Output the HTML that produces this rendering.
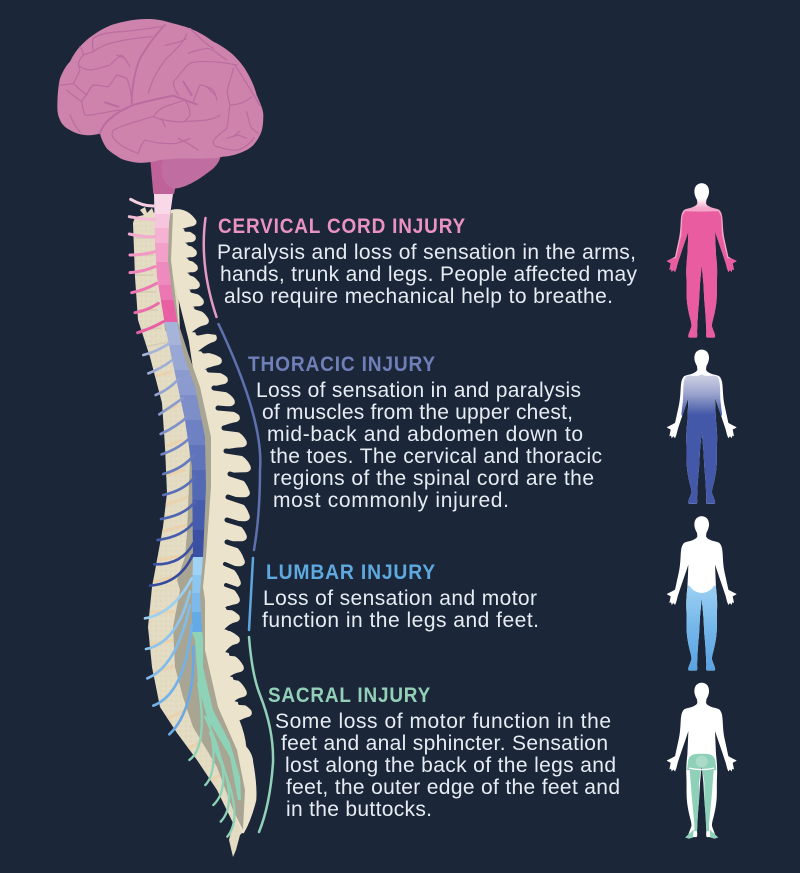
<!DOCTYPE html>
<html><head><meta charset="utf-8"><style>
html,body{margin:0;padding:0;background:#1b2639}
svg{display:block}
.h{font:bold 21px "Liberation Sans",sans-serif;letter-spacing:.9px}
.t{font:21px "Liberation Sans",sans-serif;fill:#e6ecf2}
</style></head><body>
<svg width="800" height="873" viewBox="0 0 800 873" xmlns="http://www.w3.org/2000/svg">
<defs>
<path id="half" d="M-1,0 L0,0 C14,0 22,10 22,25 C22,36 16,46 14,50 L13,60 C14,66 25,72 38,75 C46,77 53,78 56,84 C61,92 62,100 63,115 C64,135 65,150 68,165 L80,220 C90,226 98,230 105,233 C100,237 96,238 93,240 L97,260 L92,258 L90,266 L85,260 L80,266 L76,256 L72,240 C64,215 50,175 40,145 C41,170 42,195 43,215 C46,240 47,260 46,280 C45,300 46,325 45,345 C44,365 40,385 35,405 C32,415 30,425 31,430 C34,440 39,450 40,456 C41,461 39,463 36,463 L16,463 C13,463 13,455 14,445 L13,425 C12,400 10,375 8,355 L5,300 L0,247 L-1,247 Z"/>
<clipPath id="bodyClip"><use href="#half"/><use href="#half" transform="scale(-1,1)"/></clipPath>
<g id="body"><use href="#half"/><use href="#half" transform="scale(-1,1)"/></g>
<linearGradient id="g1" gradientUnits="userSpaceOnUse" x1="0" y1="45" x2="0" y2="75"><stop offset="0" stop-color="#fff"/><stop offset="1" stop-color="#f3a6c9"/></linearGradient>
<linearGradient id="g2" gradientUnits="userSpaceOnUse" x1="0" y1="72" x2="0" y2="195"><stop offset="0" stop-color="#d2d4e5"/><stop offset=".5" stop-color="#9aa3cd"/><stop offset="1" stop-color="#4358a8"/></linearGradient>
<linearGradient id="g3" gradientUnits="userSpaceOnUse" x1="0" y1="210" x2="0" y2="463"><stop offset="0" stop-color="#9bd0f3"/><stop offset=".5" stop-color="#73b6ea"/><stop offset="1" stop-color="#5aa3e1"/></linearGradient>
<pattern id="st" width="5" height="5" patternUnits="userSpaceOnUse"><rect width="5" height="5" fill="#e3dbc2"/><circle cx="1" cy="1" r=".7" fill="#dcd3b9"/><circle cx="3.5" cy="3.5" r=".6" fill="#e9e2cd"/></pattern>
<clipPath id="cord"><path d="M154,194 L155,243 L157,277 L165,325 L170,350 L177,383 L185,420 L192,467 L193,557 L192,600 L192,632 L195,640 L198,683 L210,723 L230,757 L238,800 L241,800 L240,777 L230,743 L213,710 L203,667 L203,637 L202,632 L200,593 L203,557 L206,487 L205,437 L195,387 L183,353 L177,320 L172,293 L168,260 L169,223 L173,194 Z"/></clipPath>
<path id="vert" d="M135,217 L153,213 L175,213 L180,330 L200,440 L195,560 L205,640 L230,740 L245,830 L240,835 L236,850 L233,857 L229,840 L233,823 L217,790 L197,760 L177,733 L160,707 L152,667 L148,627 L152,587 L157,560 L163,527 L167,493 L165,447 L162,403 L150,357 L138,320 L135,277 L133,223 Z"/>
<clipPath id="vertClip"><use href="#vert"/></clipPath>
</defs>
<rect width="800" height="873" fill="#1b2639"/>

<!-- brain -->
<g transform="translate(50,15) scale(.33333)">
<path d="M300,425 L310,537 L372,537 L380,500 L510,420 Z" fill="#bf629a"/>
<path d="M340,430 C328,470 335,510 372,521 C410,518 450,492 490,460 C505,445 510,435 512,420 Z" fill="#c06ea1"/>
<path d="M22,280 C22,240 25,210 30,190 C40,165 50,150 60,140 C70,120 80,105 90,95 C105,78 118,68 130,60 C150,45 170,35 190,28 C225,18 260,12 290,12 C315,12 335,15 350,20 C380,28 400,33 420,40 C445,50 470,65 490,80 C515,92 535,107 550,120 C570,140 582,155 590,170 C605,195 615,220 620,240 C630,262 640,285 640,300 C640,325 638,345 630,360 C618,385 605,397 590,405 C565,418 540,424 520,425 C500,430 485,430 470,430 C445,432 420,430 400,430 C375,430 350,433 330,435 C305,442 280,445 260,443 C240,440 225,436 215,432 C195,420 180,410 170,400 C160,385 153,370 150,355 C135,360 120,362 105,360 C85,358 70,352 60,345 C45,338 35,328 30,315 C25,305 22,292 22,280 Z" fill="#cd83ab"/>
<g fill="none" stroke="#ba6ca0" stroke-width="3.5" stroke-linecap="round" stroke-linejoin="round">
<path d="M150,355 C160,320 200,290 250,270 C290,258 340,248 370,242 C395,250 420,262 440,268" stroke-width="6"/>
<path d="M345,30 C315,60 285,105 270,130 C255,165 245,220 245,265" stroke-width="5.5"/>
<path d="M410,55 C405,80 375,105 350,130 C325,160 305,195 295,235"/>
<path d="M408,72 C385,85 365,85 345,92"/>
<path d="M560,150 C530,145 510,140 480,140 C450,138 430,142 420,145 C400,160 390,180 370,200 C370,215 378,230 385,240"/>
<path d="M415,115 C435,105 455,105 470,100 C490,100 505,120 530,135"/>
<path d="M420,40 C445,65 470,90 490,100"/>
<path d="M555,150 C580,190 600,220 630,272"/>
<path d="M550,160 C545,190 530,215 532,235 C535,250 537,260 540,270 C560,270 590,262 605,245"/>
<path d="M540,270 C535,300 535,325 530,340 C515,355 495,365 490,378 C488,390 495,395 510,397 C530,405 555,408 570,403 C590,395 605,380 612,368"/>
<path d="M590,290 C595,310 600,335 605,340 C612,345 620,352 625,355"/>
<path d="M530,370 L565,360 L590,370 M550,365 L570,348"/>
<path d="M190,345 C210,335 240,325 265,318 C290,310 305,305 310,305 C325,312 335,315 345,315 C370,320 385,322 400,320 C425,318 450,318 470,315 C490,312 505,305 510,300"/>
<path d="M310,305 C320,290 330,280 345,275 C365,268 385,262 405,255 C415,270 420,285 420,300 C415,310 405,318 400,320"/>
<path d="M335,310 L345,335"/>
<path d="M190,345 C184,355 185,365 195,375 C205,385 218,395 230,400 C245,408 255,412 265,415 C270,400 275,385 285,375 C320,385 350,388 380,385 C395,380 410,375 420,370"/>
<path d="M385,370 C405,380 430,395 445,405"/>
<path d="M130,70 C150,55 190,50 220,50 C260,45 300,40 335,35"/>
<path d="M130,110 C150,95 175,85 200,80 C235,72 270,68 305,65"/>
<path d="M130,70 C125,80 128,95 130,110 C115,115 105,118 100,120 C90,130 85,140 85,150 C95,160 110,165 125,165 C145,160 165,155 180,150 C195,135 205,125 215,120 C225,130 232,142 240,155"/>
<path d="M30,210 C45,210 58,208 70,205 C80,190 85,175 90,165 L85,150"/>
<path d="M70,205 C85,220 98,232 110,240 C115,228 122,217 130,210 C145,210 160,215 175,215 C185,205 192,190 200,180 C210,182 220,186 230,190 C240,210 245,240 245,265"/>
<path d="M110,240 C100,248 97,255 95,260 C97,275 100,290 105,300 C120,302 135,298 150,295 C170,292 190,288 210,285"/>
<path d="M50,225 C65,240 82,250 95,260"/>
<path d="M60,300 C68,320 78,338 90,350"/>
<path d="M90,95 C100,110 100,118 100,120"/>
<path d="M430,260 C438,235 445,220 450,210 C465,212 480,218 490,225 C495,235 500,245 500,255"/>
<path d="M165,262 L205,275" stroke-width="6"/>
<path d="M400,200 L425,240" stroke-width="6"/>
<path d="M200,120 L225,130 M470,215 L495,240"/>
</g>
</g>

<!-- vertebral bodies -->
<use href="#vert" fill="url(#st)"/>
<path d="M140,210 L145,207 L147,213 L152,208 L155,216 L147,219 Z" fill="#e6dcc2"/>
<g stroke="#e9d2ad" stroke-width="3" fill="none" clip-path="url(#vertClip)">
<path d="M130,382 L172,372 M140,420 L178,405 M150,452 L183,440 M150,480 L185,470 M150,510 L188,497 M150,535 L187,525 M150,561 L188,555 M145,583 L186,575 M140,612 L175,612 M140,646 L175,640 M145,675 L178,665 M160,722 L190,708 M180,752 L205,740 M205,785 L220,775"/>
</g>
<g stroke="#d6cdb2" stroke-width="1.5" fill="none" clip-path="url(#vertClip)">
<path d="M130,238 L154,238 M130,255 L154,255 M130,275 L154,275 M130,292 L156,292 M130,310 L158,310 M130,330 L162,328 M130,350 L168,342"/>
</g>

<!-- posterior spinous processes -->
<path stroke="#ece3cd" stroke-width="2.6" stroke-linejoin="round" d="M172,211 Q186,208 195,221 Q196,224 192,225 Q186,226 178,229 Q188,231 194,236 Q196,240 191,241 Q185,241 181,243 Q189,245 195,251 Q197,255 192,256 Q186,256 182,258 Q190,260 196,266 Q198,270 193,271 Q187,271 183,273 Q192,275 198,283 Q200,287 195,288 Q189,288 183,290 Q196,292 202,300 Q204,304 199,305 Q193,305 187,307 Q201,309 207,319 Q209,323 204,324 Q198,325 189,333 Q209,335 215,336 Q217,340 212,341 Q206,343 195,352 Q214,354 220,359 Q222,363 217,364 Q211,365 200,370 Q220,372 226,378 Q228,382 223,383 Q217,384 205,388 Q227,390 233,400 Q235,404 230,405 Q224,405 208,408 Q232,410 238,416 Q240,420 235,421 Q229,422 216,427 Q239,429 245,441 Q247,445 242,446 Q236,446 216,450 Q243,452 249,466 Q251,470 246,471 Q240,471 222,472 Q242,474 248,491 Q250,495 245,496 Q239,496 218,495 Q242,497 248,515 Q250,519 245,520 Q239,520 217,518 Q239,520 245,535 Q247,539 242,540 Q236,540 217,540 Q237,542 243,560 Q245,564 240,565 Q234,565 215,562 Q233,564 239,581 Q241,585 236,586 Q230,586 217,583 Q232,585 238,598 Q240,602 235,603 Q229,604 221,608 Q232,610 238,616 Q240,620 235,621 Q229,622 222,630 Q232,632 238,638 Q240,642 235,643 Q229,644 223,653 Q236,655 242,666 Q244,670 239,671 Q233,672 227,677 Q239,679 245,691 Q247,695 242,696 Q236,697 232,702 Q244,704 250,711 Q252,715 247,716 Q243,717 238,720 Q244,735 245,747 Q252,755 252,763 Q256,785 255,800 Q250,820 243,832 L238,820 L210,700 L195,640 L195,560 L205,440 L190,340 L170,260 Z" fill="#ece3cd"/>
<!-- dark gaps between processes -->
<g fill="none" stroke="#1b2639" stroke-linecap="round">
<path stroke-width="3.5" d="M186,230 L197,230 M189,244 L198,246 M190,259 L199,261 M191,274 L200,277 M192,291 L204,294 M196,308 L209,312"/>
<path stroke-width="5" d="M198,333 L218,329 M204,351 L223,349 M209,370 L229,371 M214,388 L236,391 M218,408 L241,410 M224,428 L248,431 M226,451 L252,455 M230,474 L252,481 M228,497 L252,505 M227,520 L250,527 M227,542 L248,549"/>
<path stroke-width="4" d="M225,564 L244,572 M226,585 L243,591 M228,608 L243,609 M229,629 L243,629 M231,654 L247,655 M235,678 L250,681 M240,703 L255,704"/>
</g>

<!-- grey dura -->
<path d="M173,213 L171,260 L177,310 L178,322 L188,353 L200,387 L211,437 L211,487 L206,557 L203,587 L205,600 L205,650 L218,707 L237,750 L245,790 L243,830 L233,810 L217,767 L193,727 L183,697 L175,667 L173,627 L180,590 L177,580 L185,557 L187,533 L190,460 L188,427 L182,383 L177,347 L165,330 L160,280 L160,215 Z" fill="#a9a593"/>

<!-- cord -->
<g clip-path="url(#cord)">
<rect x="120" y="190" width="160" height="24" fill="#f9d9e8"/>
<rect x="120" y="214" width="160" height="14" fill="#f7c6de"/>
<rect x="120" y="228" width="160" height="15" fill="#f5b2d3"/>
<rect x="120" y="243" width="160" height="19" fill="#f2a0c9"/>
<rect x="120" y="262" width="160" height="23" fill="#ef8abe"/>
<rect x="120" y="285" width="160" height="15" fill="#ec78b3"/>
<rect x="120" y="300" width="160" height="24" fill="#e95fa4"/>
<rect x="120" y="322" width="160" height="23" fill="#a7b4d9"/>
<rect x="120" y="345" width="160" height="25" fill="#99a7d4"/>
<rect x="120" y="370" width="160" height="25" fill="#8b9bcf"/>
<rect x="120" y="395" width="160" height="25" fill="#7d8ec9"/>
<rect x="120" y="420" width="160" height="25" fill="#6e81c3"/>
<rect x="120" y="445" width="160" height="25" fill="#6074bb"/>
<rect x="120" y="470" width="160" height="30" fill="#5369b4"/>
<rect x="120" y="500" width="160" height="30" fill="#465dad"/>
<rect x="120" y="530" width="160" height="27" fill="#3b50a3"/>
<rect x="120" y="557" width="160" height="18" fill="#a0d2f3"/>
<rect x="120" y="575" width="160" height="18" fill="#8dc6f0"/>
<rect x="120" y="593" width="160" height="19" fill="#7cbaec"/>
<rect x="120" y="612" width="160" height="20" fill="#64aae6"/>
<rect x="120" y="632" width="160" height="240" fill="#8ed2b8"/>
</g>

<!-- cervical nerves -->
<g transform="translate(40,10) scale(.33333)" fill="none" stroke-width="9" stroke-linecap="round">
<path d="M272,568 Q310,590 345,588" stroke="#f6cfe1"/>
<path d="M268,620 Q310,628 345,628" stroke="#f5bcd8"/>
<path d="M268,672 Q310,682 345,680" stroke="#f3aacf"/>
<path d="M270,735 Q310,735 345,725" stroke="#f198c5"/>
<path d="M270,788 Q310,785 345,770" stroke="#ee86bb"/>
<path d="M275,848 Q315,840 350,820" stroke="#ec78b3"/>
<path d="M285,908 Q325,900 355,880" stroke="#ea6cab"/>
<path d="M293,968 Q335,955 370,935" stroke="#e95fa4"/>
</g>
<!-- thoracic nerves -->
<g transform="translate(120,320) scale(.33333)" fill="none" stroke-width="8" stroke-linecap="round">
<path d="M70,105 Q110,95 145,72" stroke="#a7b4d9"/>
<path d="M85,160 Q125,145 157,120" stroke="#9fadd6"/>
<path d="M107,225 Q145,210 175,178" stroke="#93a2d1"/>
<path d="M118,283 Q160,255 188,235" stroke="#8a9acd"/>
<path d="M122,342 Q170,320 205,288" stroke="#7f90c9"/>
<path d="M125,403 Q180,385 215,348" stroke="#7284c4"/>
<path d="M130,462 Q190,445 222,405" stroke="#6679bd"/>
<path d="M130,525 Q195,510 225,470" stroke="#5a6fb7"/>
<path d="M123,597 Q195,585 225,545" stroke="#4e65b1"/>
<path d="M113,660 Q190,650 222,605" stroke="#465dab"/>
<path d="M103,733 Q185,735 220,670" stroke="#3d52a4"/>
<path d="M90,797 Q180,790 218,705" stroke="#374b9e"/>
</g>
<!-- lumbar and sacral nerves -->
<g transform="translate(130,550) scale(.33333)" fill="none" stroke-width="8" stroke-linecap="round">
<path d="M45,205 Q130,190 185,85" stroke="#9ccff0"/>
<path d="M48,297 Q140,280 180,125" stroke="#8cc4ee"/>
<path d="M52,385 Q140,350 180,165" stroke="#7fbcec"/>
<path d="M70,467 Q165,430 185,225" stroke="#72b2e8"/>
<path d="M118,553 Q195,480 190,290" stroke="#6aa9e2"/>
<g stroke="#8ed2b8" stroke-width="7">
<path d="M178,630 Q235,590 205,400"/>
<path d="M226,705 Q280,650 215,430"/>
<path d="M250,765 Q320,700 225,500"/>
<path d="M272,815 Q335,750 240,550"/>
<path d="M292,860 Q350,790 250,590"/>
</g>
</g>

<!-- side lines -->
<g fill="none" stroke-width="2.5" stroke-linecap="round">
<path d="M205.5,218 Q199,265 216.5,317" stroke="#e59ac3"/>
<path d="M218.5,324 Q264,420 260,470 Q260,515 254,550" stroke="#5f70ae"/>
<path d="M253,558 L249,630" stroke="#5ea5dc"/>
<path d="M249,637 Q252,675 260,695 Q274,730 273,763 Q270,805 259,832" stroke="#93d0b8"/>
</g>

<!-- text -->
<text class="h" x="218" y="233" fill="#ea93c1" textLength="248" lengthAdjust="spacingAndGlyphs">CERVICAL CORD INJURY</text>
<text class="t" x="217" y="259" textLength="419">Paralysis and loss of sensation in the arms,</text>
<text class="t" x="220" y="281" textLength="417">hands, trunk and legs. People affected may</text>
<text class="t" x="224" y="303" textLength="389">also require mechanical help to breathe.</text>

<text class="h" x="248" y="371" fill="#6f7fb8" textLength="188" lengthAdjust="spacingAndGlyphs">THORACIC INJURY</text>
<text class="t" x="256" y="397" textLength="325">Loss of sensation in and paralysis</text>
<text class="t" x="262" y="419" textLength="311">of muscles from the upper chest,</text>
<text class="t" x="267" y="441" textLength="316">mid-back and abdomen down to</text>
<text class="t" x="270" y="463" textLength="332">the toes. The cervical and thoracic</text>
<text class="t" x="273" y="485" textLength="321">regions of the spinal cord are the</text>
<text class="t" x="273" y="507" textLength="236">most commonly injured.</text>

<text class="h" x="266" y="579" fill="#5ea9de" textLength="170" lengthAdjust="spacingAndGlyphs">LUMBAR INJURY</text>
<text class="t" x="263" y="605" textLength="274">Loss of sensation and motor</text>
<text class="t" x="262" y="627" textLength="277">function in the legs and feet.</text>

<text class="h" x="268" y="702" fill="#93d0b8" textLength="163" lengthAdjust="spacingAndGlyphs">SACRAL INJURY</text>
<text class="t" x="275" y="728" textLength="336">Some loss of motor function in the</text>
<text class="t" x="281" y="750" textLength="327">feet and anal sphincter. Sensation</text>
<text class="t" x="285" y="772" textLength="331">lost along the back of the legs and</text>
<text class="t" x="286" y="794" textLength="334">feet, the outer edge of the feet and</text>
<text class="t" x="286" y="816" textLength="146">in the buttocks.</text>

<!-- figure 1 -->
<g transform="translate(701.7,183.3) scale(.33333)">
<use href="#body" fill="url(#g1)"/>
<g clip-path="url(#bodyClip)">
<path d="M0,85 L50,84 L58,98 L61,155 L77,225 L110,225 L110,470 L-110,470 L-110,225 L-77,225 L-61,155 L-58,98 L-50,84 Z" fill="#e95c9f"/>
</g>
</g>
<!-- figure 2 -->
<g transform="translate(701.7,349.6) scale(.33333)">
<use href="#body" fill="#fff"/>
<g clip-path="url(#bodyClip)">
<path d="M0,74 C15,85 35,72 48,82 C55,92 55,110 56,150 L61,195 L50,215 L60,470 L-60,470 L-50,215 L-61,195 L-56,150 C-55,110 -55,92 -48,82 C-35,72 -15,85 0,74 Z" fill="url(#g2)"/>
</g>
</g>
<!-- figure 3 -->
<g transform="translate(701.7,516.3) scale(.33333)">
<use href="#body" fill="#fff"/>
<g clip-path="url(#bodyClip)">
<path d="M0,230 Q25,228 37,208 L44,208 L50,250 L50,470 L-50,470 L-50,250 L-44,208 L-37,208 Q-25,228 0,230 Z" fill="url(#g3)"/>
</g>
</g>
<!-- figure 4 -->
<g transform="translate(701.7,682.8) scale(.33333)">
<use href="#body" fill="#fff"/>
<g clip-path="url(#bodyClip)">
<path d="M0,213 C22,212 38,215 41,235 L44,262 L36,262 L30,340 L22,425 L22,445 L8,445 L8,300 L0,247 L-8,300 L-8,445 L-22,445 L-22,425 L-30,340 L-36,262 L-44,262 L-41,235 C-38,215 -22,212 0,213 Z" fill="#8fd0b8"/>
</g>
<path d="M24,440 L50,464 L38,468 L26,464 Z M-24,440 L-50,464 L-38,468 L-26,464 Z" fill="#8fd0b8"/>
<ellipse cx="0" cy="236" rx="18" ry="18" fill="#aadbc9"/>
<path d="M-38,256 Q0,265 38,256" fill="none" stroke="#fff" stroke-width="4"/>
</g>
</svg>
</body></html>
